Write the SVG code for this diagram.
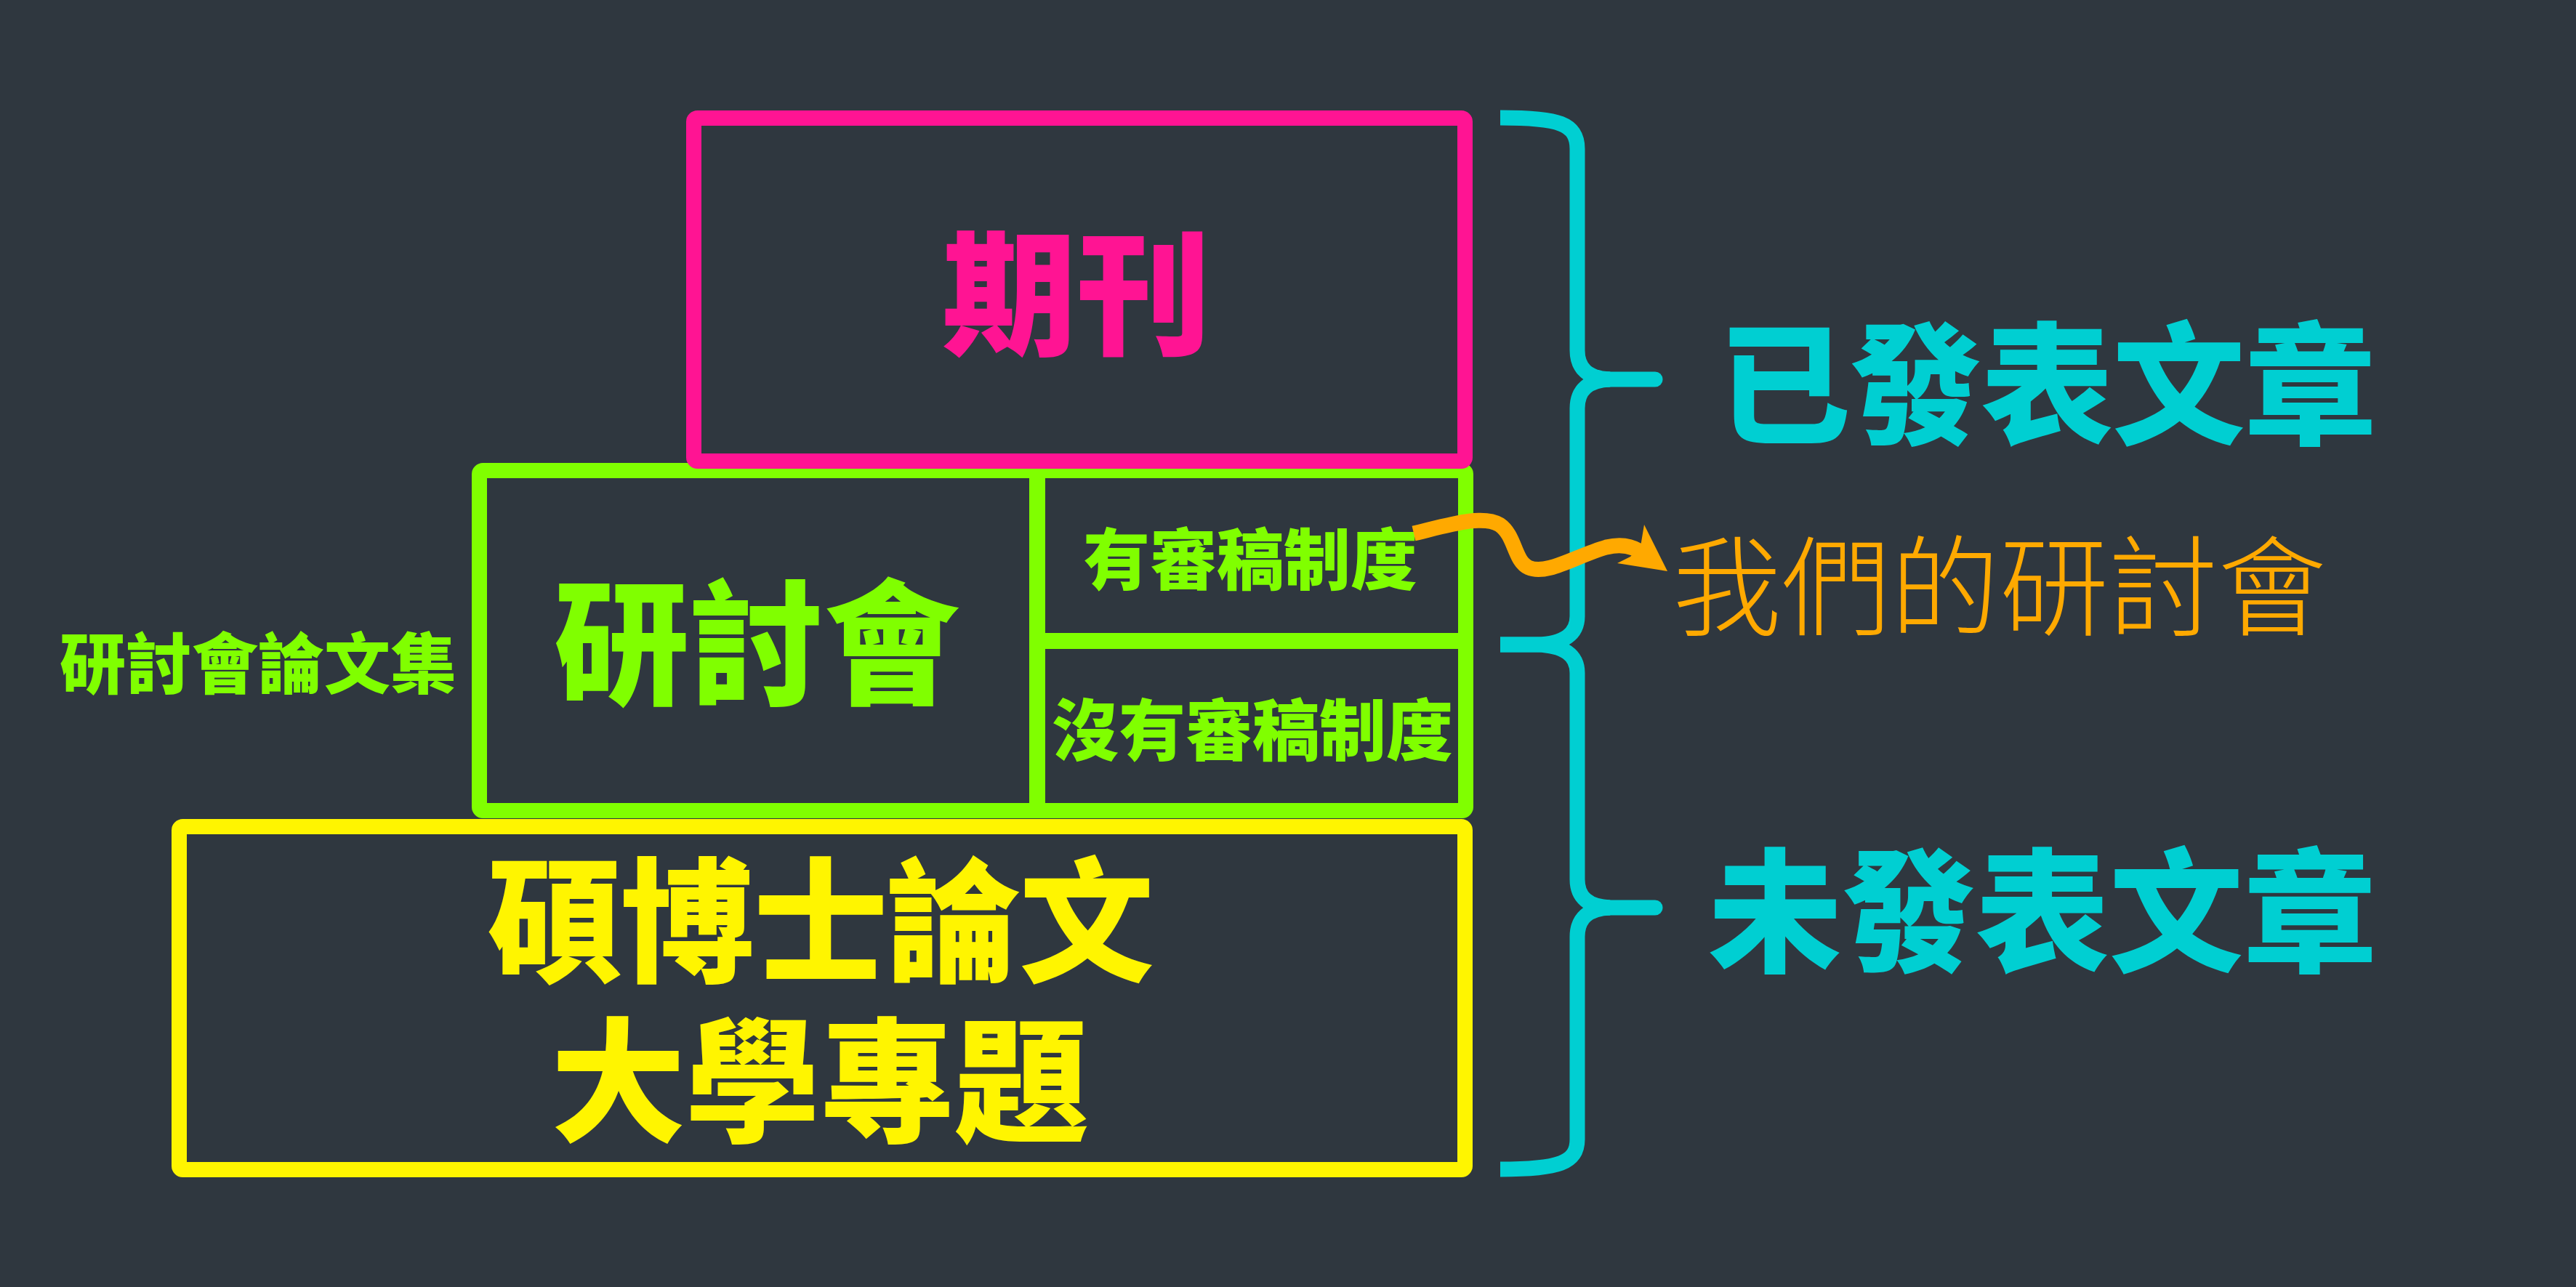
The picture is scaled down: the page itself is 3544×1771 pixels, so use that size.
<svg xmlns="http://www.w3.org/2000/svg" width="3544" height="1771" viewBox="0 0 3544 1771">
  <style>
    .box { fill: none; stroke-width: 21; stroke-linejoin: round; }
    .poster { font-family: "Noto Sans CJK TC", "Noto Sans CJK SC", sans-serif; font-weight: 900; text-anchor: middle; dominant-baseline: central; }
    .hand { font-family: "Noto Sans CJK TC", "Noto Sans CJK SC", sans-serif; font-weight: 300; text-anchor: middle; dominant-baseline: central; fill: #FFA900; }
    .brace { fill: none; stroke: #00CFD2; stroke-width: 21; stroke-linecap: butt; }
    .prong { fill: none; stroke: #00CFD2; stroke-width: 21; stroke-linecap: round; }
  </style>
  <rect x="0" y="0" width="3544" height="1771" fill="#2F373F"/>

  <g id="node-thesis">
    <rect class="box" x="246.5" y="1137.5" width="1769" height="472" rx="5" stroke="#FFF500"/>
    <text class="poster" font-size="185" fill="#FFF500"><tspan x="1128" y="1256" letter-spacing="-2">碩博士論文</tspan><tspan x="1128" y="1476">大學專題</tspan></text>
  </g>

  <g id="node-conference">
    <rect class="box" x="659.5" y="647.5" width="1357" height="468" rx="5" stroke="#80FF00"/>
    <line x1="1427" y1="647" x2="1427" y2="1116" stroke="#80FF00" stroke-width="22"/>
    <line x1="1427" y1="882" x2="2016" y2="882" stroke="#80FF00" stroke-width="22"/>
    <text class="poster" x="1041" y="874" font-size="186" fill="#80FF00">研討會</text>
  </g>

  <g id="node-reviewed">
    <text class="poster" x="1720" y="763" font-size="92" fill="#80FF00">有審稿制度</text>
  </g>

  <g id="node-unreviewed">
    <text class="poster" x="1723" y="998" font-size="92" fill="#80FF00">沒有審稿制度</text>
  </g>

  <g id="node-proceedings">
    <text class="poster" x="355" y="907" font-size="91" fill="#80FF00">研討會論文集</text>
  </g>

  <g id="node-journal">
    <rect class="box" x="954.5" y="162.5" width="1061" height="472" rx="5" stroke="#FF1493"/>
    <text class="poster" x="1481" y="393" font-size="185" fill="#FF1493">期刊</text>
  </g>

  <g id="node-brace">
    <path class="brace" d="M2064,162 C2145,162 2170,170 2170,205 L2170,482 Q2170,520 2215,522"/>
    <path class="prong" d="M2205,522 L2277,522"/>
    <path class="brace" d="M2215,522 Q2170,524 2170,562 L2170,848 Q2170,885 2115,887 L2064,887"/>
    <path class="brace" d="M2064,887 L2115,887 Q2170,889 2170,926 L2170,1210 Q2170,1247 2215,1249"/>
    <path class="prong" d="M2205,1249 L2277,1249"/>
    <path class="brace" d="M2215,1249 Q2170,1251 2170,1289 L2170,1568 C2170,1600 2145,1609 2064,1609"/>
  </g>

  <g id="node-published">
    <text class="poster" x="2816" y="517" font-size="182" fill="#00CFD2" letter-spacing="-1">已發表文章</text>
  </g>

  <g id="node-unpublished">
    <text class="poster" x="2810" y="1243" font-size="184" fill="#00CFD2">未發表文章</text>
  </g>

  <g id="node-ours">
    <text class="hand" x="2751" y="797" font-size="150">我們的研討會</text>
  </g>

  <g id="connectors">
    <path d="M1945,734 C1995,722 2040,708 2063,722 C2085,737 2083,772 2103,781 C2128,792 2168,765 2210,753 C2230,748 2245,752 2255,758" fill="none" stroke="#FFA900" stroke-width="21" stroke-linecap="butt"/>
    <polygon points="2262,722 2294,786 2225,775 2243,766 2257,752" fill="#FFA900"/>
  </g>
</svg>
